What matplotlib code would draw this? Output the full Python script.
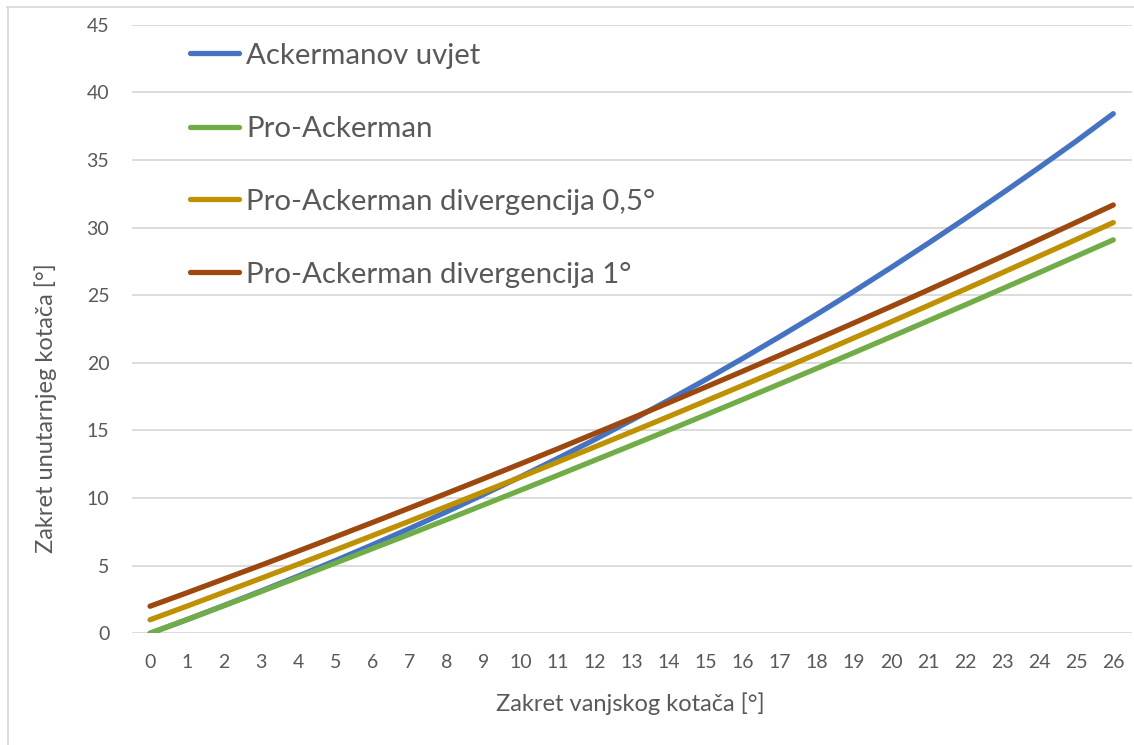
import matplotlib
matplotlib.use("Agg")
import matplotlib.pyplot as plt
from matplotlib.lines import Line2D

# ---- data ----
outer_angle = list(range(27))  # Zakret vanjskog kotača [°]
ackerman = [0.00, 1.01, 2.06, 3.13, 4.23, 5.37, 6.54, 7.74, 8.98, 10.26,
            11.57, 12.93, 14.32, 15.76, 17.24, 18.76, 20.33, 21.94, 23.59,
            25.29, 27.04, 28.83, 30.66, 32.53, 34.44, 36.39, 38.42]
pro_ackerman = [0.00, 1.02, 2.05, 3.09, 4.14, 5.19, 6.26, 7.32, 8.40, 9.49,
                10.58, 11.68, 12.79, 13.90, 15.02, 16.15, 17.29, 18.44, 19.59,
                20.75, 21.92, 23.10, 24.28, 25.47, 26.67, 27.88, 29.09]
pro_div_05 = [1.00, 2.01, 3.04, 4.07, 5.11, 6.16, 7.22, 8.29, 9.37, 10.46,
              11.55, 12.66, 13.78, 14.90, 16.03, 17.18, 18.33, 19.49, 20.66,
              21.84, 23.03, 24.23, 25.44, 26.66, 27.89, 29.12, 30.37]
pro_div_1 = [2.00, 3.00, 4.02, 5.04, 6.08, 7.13, 8.19, 9.26, 10.34, 11.43,
             12.53, 13.64, 14.77, 15.90, 17.05, 18.21, 19.38, 20.56, 21.75,
             22.95, 24.16, 25.38, 26.62, 27.86, 29.12, 30.39, 31.67]

series_labels = ["Ackermanov uvjet", "Pro-Ackerman",
                 "Pro-Ackerman divergencija 0,5°", "Pro-Ackerman divergencija 1°"]
series_colors = ["#4472C4", "#70AD47", "#BF9000", "#9E480E"]
y_ticks = [0, 5, 10, 15, 20, 25, 30, 35, 40, 45]
x_title = "Zakret vanjskog kotača [°]"
y_title = "Zakret unutarnjeg kotača [°]"

# ---- style ----
FONT = ["Lato", "DejaVu Sans"]
plt.rcParams["font.family"] = FONT
TXT = "#595959"
GRID = "#D9D9D9"
W, H = 1134, 745

fig = plt.figure(figsize=(W / 100, H / 100), dpi=100)
fig.patch.set_facecolor("white")

def fx(px):
    return px / W

def fy(py):
    return 1 - py / H

ax = fig.add_axes([fx(131.5), fy(633.3), (1131.8 - 131.5) / W, (633.3 - 24.7) / H])

all_series = [ackerman, pro_ackerman, pro_div_05, pro_div_1]
for vals, col in zip(all_series, series_colors):
    ax.plot(outer_angle, vals, color=col, lw=3.8, solid_capstyle="round",
            solid_joinstyle="round", zorder=3)

ax.set_xlim(-0.5, 26.5)
ax.set_ylim(0, 45)
ax.set_xticks(outer_angle)
ax.set_xticklabels([str(v) for v in outer_angle])
ax.set_yticks(y_ticks)
ax.set_yticklabels([str(v) for v in y_ticks])
ax.tick_params(axis="both", length=0, labelsize=14, colors=TXT)
ax.tick_params(axis="y", pad=16)
ax.tick_params(axis="x", pad=15)
for s in ax.spines.values():
    s.set_visible(False)
ax.grid(axis="y", color=GRID, lw=1.3, zorder=0)
ax.set_axisbelow(True)

# axis titles
fig.text(fx(630.5), fy(704), x_title, ha="center", va="center",
         fontsize=17, color=TXT)
fig.text(fx(46), fy(408), y_title, ha="center", va="center", rotation=90,
         fontsize=17, color=TXT)

# legend (manual, inside plot area)
leg_y = [53.3, 126.7, 199.3, 272.2]
for lab, col, yy in zip(series_labels, series_colors, leg_y):
    fig.add_artist(Line2D([fx(189.5), fx(239.0)], [fy(yy), fy(yy)],
                          transform=fig.transFigure, color=col, lw=3.8,
                          solid_capstyle="round"))
    fig.text(fx(246.5), fy(yy + 10.5), lab, ha="left", va="baseline",
             fontsize=21.2, color=TXT)

# chart border (left and top visible)
fig.add_artist(Line2D([fx(7.5), fx(7.5)], [fy(7), 0], transform=fig.transFigure,
                      color=GRID, lw=1.3))
fig.add_artist(Line2D([fx(7), 1], [fy(7), fy(7)], transform=fig.transFigure,
                      color=GRID, lw=1.3))

fig.savefig("out.png", dpi=100, facecolor="white")
